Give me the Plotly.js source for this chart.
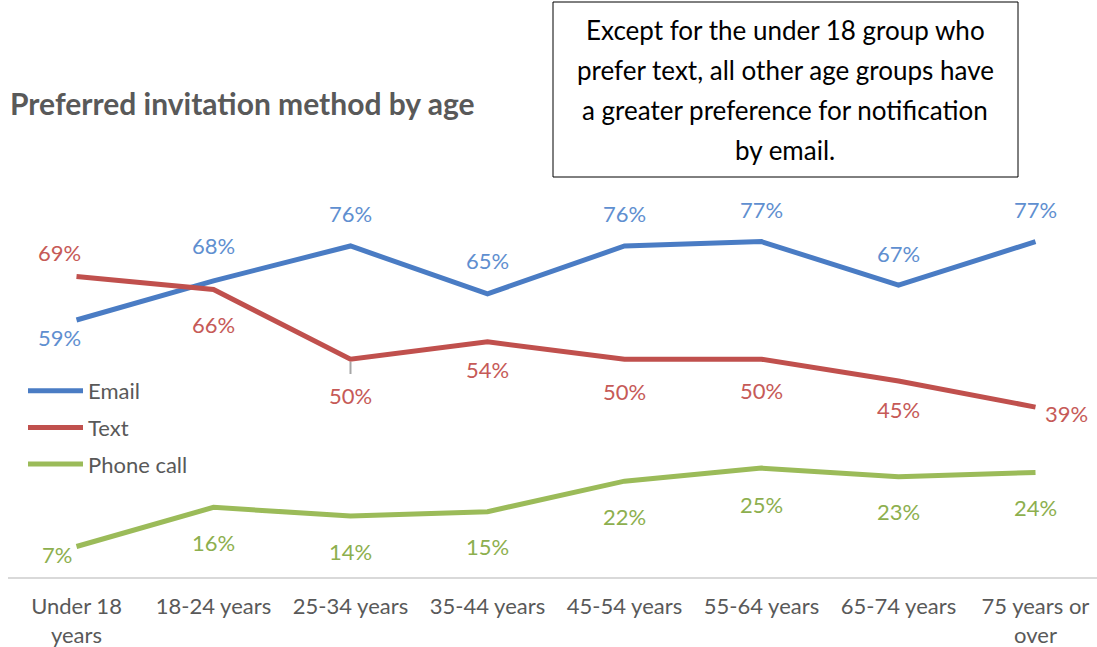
<!DOCTYPE html>
<html>
<head>
<meta charset="utf-8">
<script src="https://cdn.plot.ly/plotly-3.0.1.min.js"></script>
<style>html,body{margin:0;padding:0;background:#fff;}#chart{width:1097px;height:647px;}</style>
</head>
<body>
<div id="chart"></div>
<script>
// ---- data ----
const categories = ["Under 18<br>years","18-24 years","25-34 years","35-44 years","45-54 years","55-64 years","65-74 years","75 years or<br>over"];
const emailValues = [59, 68, 76, 65, 76, 77, 67, 77];
const textValues  = [69, 66, 50, 54, 50, 50, 45, 39];
const phoneValues = [7, 16, 14, 15, 22, 25, 23, 24];
const seriesNames = ["Email", "Text", "Phone call"];
const titleText = "Preferred invitation method by age";
const noteLines = ["Except for the under 18 group who", "prefer text, all other age groups have", "a greater preference for notification", "by email."];

// ---- styling / layout ----
const W = 1097, H = 647;
const M = {l: 8, r: 0, t: 185, b: 70};
const plotW = W - M.l - M.r, plotH = H - M.t - M.b;
const yMax = 90;
const catStep = 137;
const xRange = [-0.5, -0.5 + plotW / catStep];
const px = x => (x - M.l) / plotW;       // pixel -> paper x
const py = y => (H - M.b - y) / plotH;   // pixel -> paper y

const FONT = "Lato, 'Open Sans', sans-serif";
const lineColors  = ["#4A7CC4", "#C0504D", "#9BBB59"];
const labelColors = ["#5F8FD0", "#C65A57", "#8DAF4E"];
const allValues = [emailValues, textValues, phoneValues];

// label offsets in pixels (dx, dy) relative to each point
const labelOffsets = [
  [[-17,17],[0,-35],[0,-32],[0,-33],[0,-32],[0,-32],[0,-32],[0,-32]],
  [[-17,-24],[0,35],[0,36],[0,28],[0,32],[0,31],[0,28],[31,6]],
  [[-20,8],[0,35],[0,35],[0,35],[0,35],[0,36],[0,35],[0,35]]
];

const traces = allValues.map((vals, s) => ({
  type: "scatter", mode: "lines",
  x: categories, y: vals, name: seriesNames[s],
  legendgroup: "g" + s,
  line: {color: lineColors[s], width: 5},
  hoverinfo: "x+y+name"
}));

const annotations = [];
allValues.forEach((vals, s) => {
  vals.forEach((v, i) => {
    const o = labelOffsets[s][i];
    annotations.push({
      x: categories[i], y: v, xref: "x", yref: "y",
      text: v + "%", showarrow: false,
      xshift: o[0], yshift: -o[1],
      font: {family: FONT, size: 22, color: labelColors[s]}
    });
  });
});

// note box text lines
const noteCenterX = 785, noteTop = 30, noteStep = 40;
noteLines.forEach((t, k) => {
  annotations.push({
    xref: "paper", yref: "paper", x: px(noteCenterX), y: py(noteTop + k * noteStep),
    text: t, showarrow: false, xanchor: "center", yanchor: "middle",
    font: {family: FONT, size: 26, color: "#000000"}
  });
});

const shapes = [
  {type: "rect", xref: "paper", yref: "paper", x0: px(553), x1: px(1018), y0: py(177), y1: py(2),
   line: {color: "#000000", width: 1}, fillcolor: "rgba(0,0,0,0)", layer: "below"},
  // leader line for the "50%" Text label at 25-34 years
  {type: "line", xref: "x", yref: "y", x0: categories[2], x1: categories[2],
   y0: textValues[2] - 0.6, y1: textValues[2] - 3.4,
   line: {color: "#A6A6A6", width: 2}}
];

const layout = {
  width: W, height: H,
  margin: M,
  paper_bgcolor: "#ffffff", plot_bgcolor: "#ffffff",
  title: {
    text: "<b>" + titleText + "</b>",
    xref: "container", yref: "container",
    x: 10 / W, y: 1 - 104 / H, xanchor: "left", yanchor: "middle",
    font: {family: FONT, size: 30, color: "#595959"}
  },
  xaxis: {
    type: "category", range: xRange,
    showgrid: false, zeroline: false,
    showline: true, linecolor: "#D9D9D9", linewidth: 2,
    ticks: "", ticklabelstandoff: 9,
    tickfont: {family: FONT, size: 22, color: "#595959"},
    fixedrange: true
  },
  yaxis: {
    range: [0, yMax], visible: false, showgrid: false, zeroline: false, fixedrange: true
  },
  showlegend: true,
  legend: {
    x: px(23), y: py(370), xanchor: "left", yanchor: "top",
    font: {family: FONT, size: 22, color: "#595959"},
    bgcolor: "rgba(0,0,0,0)", tracegroupgap: 5, itemwidth: 55
  },
  annotations: annotations,
  shapes: shapes,
  hovermode: "closest"
};

Plotly.newPlot("chart", traces, layout, {displayModeBar: false, responsive: false});
</script>
</body>
</html>
